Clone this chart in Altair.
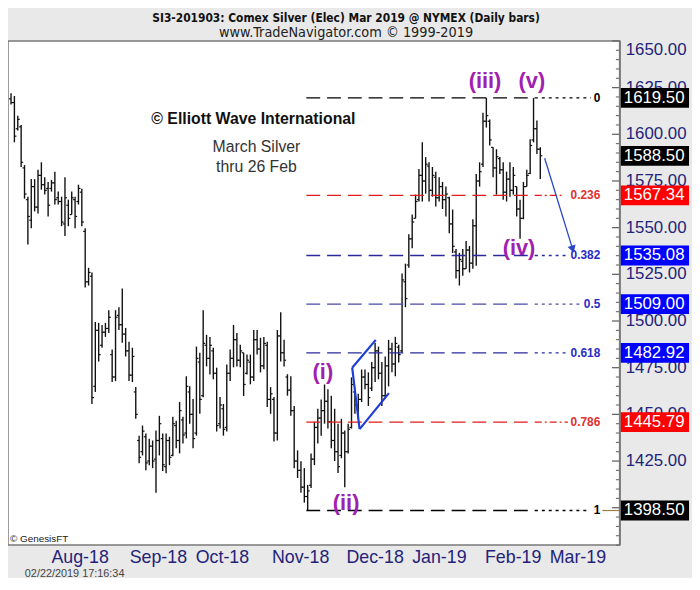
import altair as alt
import pandas as pd

# ---------------- daily bars (March 2019 silver, cents) ----------------
highs = [1622, 1620.5, 1610, 1605, 1583.5, 1566.6, 1576, 1576, 1581, 1585,
         1577, 1574.5, 1575.6, 1580, 1569.3, 1566.6, 1577, 1565, 1569.3, 1566.6,
         1573, 1570.8, 1549.7, 1528.5, 1526, 1499.5, 1499, 1497.9, 1499, 1505.8,
         1484.7, 1505.8, 1507.4, 1517.4, 1496.3, 1488.9, 1485.7, 1464.6, 1438.6, 1444,
         1439.7, 1437, 1436, 1441.3, 1449.2, 1439.7, 1439.7, 1438, 1448.7, 1446.6,
         1456.6, 1448.7, 1470.4, 1465, 1458.2, 1486.3, 1483, 1505.8, 1492.6, 1491.5,
         1485.7, 1475, 1459.3, 1455.6, 1476.7, 1484.7, 1497.9, 1493.6, 1487.3, 1483,
         1482, 1482, 1495.2, 1495.2, 1491, 1491.5, 1488.9, 1464.6, 1459.3, 1495.2,
         1504.7, 1489.9, 1471.5, 1470.4, 1454.5, 1430.7, 1424.9, 1421.2, 1412.2, 1429,
         1446, 1453, 1458, 1466, 1463.5, 1460, 1453, 1445, 1447.6, 1441.3,
         1445, 1469.8, 1463.5, 1461, 1474, 1474, 1472.5, 1478, 1488.3, 1486.3,
         1478, 1481, 1489.9, 1488.3, 1491.5, 1487.3, 1525.4, 1530.7, 1546.5, 1557,
         1567.7, 1581.4, 1595.7, 1587.8, 1585, 1582.5, 1580, 1577, 1574.5, 1572,
         1566.6, 1559.7, 1538.6, 1536.5, 1538.6, 1542.8, 1540.2, 1554.5, 1578.8, 1585,
         1611.6, 1619.5, 1607.9, 1593, 1592, 1587.8, 1585, 1580, 1585, 1582.5,
         1572, 1565, 1574.5, 1581, 1597.3, 1619.5, 1607.4, 1593]
lows = [1616, 1595.7, 1602, 1582.5, 1565.5, 1541, 1549.7, 1558.7, 1557.6, 1570.3,
        1567.7, 1556, 1569.3, 1562.4, 1562.4, 1550.8, 1545.5, 1550.8, 1557, 1549.7,
        1562.4, 1550.8, 1518, 1519, 1455.6, 1462, 1478.3, 1485.7, 1491.5, 1493.6,
        1467.3, 1467.8, 1495.2, 1488.3, 1481, 1467.8, 1467.3, 1447.6, 1423.8, 1428,
        1420, 1422.8, 1421.2, 1408, 1428, 1419.6, 1418.5, 1422.8, 1427.5, 1431.8,
        1429.1, 1434.4, 1437.1, 1445, 1431.8, 1438.6, 1450.3, 1459.2, 1475.7, 1471.4,
        1468.8, 1440.8, 1442.4, 1438.6, 1440.8, 1467.8, 1475.2, 1475.7, 1475.2, 1459.8,
        1471.4, 1466.1, 1467.8, 1482, 1472.5, 1474.1, 1454, 1450.3, 1435.5, 1436,
        1478.3, 1475.7, 1460, 1449.2, 1421.2, 1415.9, 1408, 1402.7, 1398.5, 1410.6,
        1422.8, 1434.4, 1438.6, 1445, 1442.4, 1431.8, 1425, 1418.6, 1426.5, 1411,
        1429, 1442.4, 1450.3, 1447.6, 1456.6, 1463.5, 1454.5, 1462.5, 1467.3, 1468.8,
        1454.5, 1458.2, 1465, 1472.5, 1470.4, 1477.8, 1483, 1507.4, 1528.5, 1539,
        1555, 1564, 1564, 1568.2, 1564, 1566.6, 1561.3, 1564, 1560, 1556,
        1547, 1536.4, 1522.7, 1519, 1524.3, 1528, 1526, 1528, 1529.6, 1572,
        1582.5, 1603.6, 1594, 1577, 1567.7, 1578.8, 1565, 1564, 1566.6, 1567.7,
        1556, 1544, 1554.5, 1572, 1578.8, 1595.7, 1589.4, 1576]
opens = [1619, 1617, 1603, 1604, 1582, 1565, 1554, 1572, 1561, 1578,
         1573, 1571, 1571, 1574, 1566, 1564, 1552, 1562, 1557, 1565,
         1564, 1569, 1548, 1521, 1524, 1465, 1495, 1487, 1494, 1496,
         1482, 1470, 1503, 1498, 1493, 1484, 1471, 1462, 1436, 1430,
         1438, 1425, 1433, 1426, 1436, 1437, 1422, 1436, 1428, 1444,
         1436, 1447, 1440, 1462, 1450, 1440, 1478, 1460, 1487, 1480,
         1484, 1472, 1445, 1453, 1443, 1472, 1480, 1490, 1479, 1483,
         1472, 1478, 1470, 1490, 1485, 1476, 1487, 1458, 1458, 1440,
         1492, 1483, 1470, 1463, 1452, 1425, 1420, 1411, 1406, 1412,
         1426, 1443, 1448, 1452, 1457, 1446, 1436, 1430, 1428, 1440,
         1430, 1443, 1462, 1455, 1458, 1470, 1466, 1464, 1475, 1484,
         1472, 1460, 1476, 1485, 1477, 1486, 1484, 1521, 1530, 1544,
         1555, 1565, 1578, 1575, 1583, 1570, 1577, 1566, 1572, 1565,
         1566, 1552, 1537, 1527, 1532, 1528, 1538, 1531, 1551, 1575,
         1584, 1607, 1607, 1593, 1582, 1587, 1581, 1569, 1576, 1570,
         1572, 1560, 1555, 1572, 1579, 1597, 1603, 1592]
closes = [1617, 1599, 1608, 1585, 1568, 1556, 1572, 1561, 1578, 1573,
          1570, 1562, 1574, 1565, 1564, 1553, 1566, 1555, 1566, 1556,
          1571, 1553, 1521, 1526, 1459, 1495, 1482, 1494, 1496, 1502,
          1470, 1502, 1498, 1493, 1484, 1471, 1481, 1450, 1427, 1441,
          1424, 1433, 1425, 1436, 1445, 1423, 1436, 1427, 1445, 1436,
          1452, 1439, 1465, 1450, 1437, 1480, 1458, 1488, 1480, 1487,
          1472, 1444, 1455, 1442, 1472, 1480, 1490, 1479, 1484, 1466,
          1479, 1470, 1490, 1485, 1476, 1488, 1458, 1461, 1440, 1492,
          1483, 1479, 1463, 1452, 1425, 1420, 1411, 1406, 1409, 1426,
          1443, 1448, 1452, 1457, 1446, 1436, 1430, 1422, 1440, 1430,
          1442, 1466, 1455, 1458, 1470, 1466, 1459, 1475, 1484, 1472,
          1460, 1476, 1485, 1477, 1488, 1482, 1522, 1512, 1544, 1553,
          1564, 1578, 1575, 1584, 1570, 1578, 1566, 1572, 1565, 1568,
          1552, 1540, 1527, 1533, 1528, 1538, 1531, 1551, 1575, 1580,
          1607, 1610, 1597, 1582, 1588, 1581, 1569, 1576, 1570, 1578,
          1560, 1555, 1572, 1578, 1594, 1603, 1592, 1588.5]

# ---------------- Fibonacci retracement levels ----------------
fib_levels = [1619.50, 1567.34, 1535.08, 1509.00, 1482.92, 1445.79, 1398.50]
fib_ratios = ["0", "0.236", "0.382", "0.5", "0.618", "0.786", "1"]
fib_line_colors = ["#000000", "#e01c1c", "#2a2a9c", "#4a4aa8", "#2a2a9c", "#e01c1c", "#000000"]
fib_text_colors = ["#000000", "#e03030", "#2a2ac8", "#2a2ac8", "#2a2ac8", "#e03030", "#000000"]
fib_ext_style = ["dot", "dashdot", "dot", "dot", "dot", "dashdot", "dot"]
fib_ext_end = [172.0, 164.0, 165.5, 169.3, 165.2, 165.2, 171.3]
fib_start = 87.6
fib_dash_end = 155.4
fib_label_pos = 174.8

# ---------------- price boxes on the axis ----------------
box_values = [1619.50, 1588.50, 1567.34, 1535.08, 1509.00, 1482.92, 1445.79, 1398.50]
box_colors = ["#000000", "#000000", "#ff0000", "#0000ff", "#0000ff", "#0000ff", "#ff0000", "#000000"]

# ---------------- months ----------------
month_labels = ["Aug-18", "Sep-18", "Oct-18", "Nov-18", "Dec-18", "Jan-19", "Feb-19", "Mar-19"]
month_pos = [12.0, 35.2, 54.8, 77.4, 99.5, 119.0, 140.6, 159.8]

# ---------------- wave labels ----------------
wave_labels = ["(i)", "(ii)", "(iii)", "(iv)", "(v)"]
wave_x = [92.5, 99.4, 140.6, 150.7, 154.5]
wave_y = [1472.5, 1402.7, 1628.5, 1539.1, 1628.5]

# ---------------- wedge / arrow ----------------
wedge_x1 = [101.2, 103.4, 101.2]
wedge_y1 = [1475.0, 1442.1, 1475.0]
wedge_x2 = [108.2, 112.1, 103.4]
wedge_y2 = [1489.9, 1461.4, 1442.1]
arrow_x = [158.3, 166.6]
arrow_y = [1587.2, 1538.5]

# ---------------- axis ticks ----------------
y_labels = list(range(1400, 1651, 25))
y_ticks = list(range(1380, 1651, 5))

title_line1 = "SI3-201903:  Comex Silver (Elec) Mar 2019 @ NYMEX  (Daily bars)"
title_line2 = "www.TradeNavigator.com \u00a9 1999-2019"
ewi_lines = ["\u00a9 Elliott Wave International", "March Silver", "thru 26 Feb"]
ewi_x = [71.9, 72.8, 72.8]
ewi_y = [1607.9, 1593.1, 1582.5]

W, H = 619, 510
NAVY = "#23237a"
FONT = "Liberation Sans, Arial, sans-serif"
NARROW = "Liberation Sans Narrow, Arial Narrow, DejaVu Sans Condensed, sans-serif"

xs = alt.Scale(domain=[-0.9, 180.6], nice=False, zero=False)
ys = alt.Scale(domain=[1380, 1650], nice=False, zero=False)


def X(f):
    return alt.X(f, type="quantitative", scale=xs, axis=None)


def Y(f):
    return alt.Y(f, type="quantitative", scale=ys, axis=None)


bars = pd.DataFrame({"i": list(range(len(highs))), "high": highs, "low": lows,
                     "open": opens, "close": closes})

hl = alt.Chart(bars).mark_rule(color="#111111", strokeWidth=1.4).encode(
    x=X("i"), y=Y("low"), y2="high:Q")
op = alt.Chart(bars).transform_calculate(io="datum.i - 0.6").mark_rule(
    color="#111111", strokeWidth=1.2).encode(x=X("io"), x2="i:Q", y=Y("open"))
cl = alt.Chart(bars).transform_calculate(ic="datum.i + 0.6").mark_rule(
    color="#111111", strokeWidth=1.2).encode(x=X("i"), x2="ic:Q", y=Y("close"))

fib = pd.DataFrame({"v": fib_levels, "r": fib_ratios, "lc": fib_line_colors,
                    "tc": fib_text_colors, "style": fib_ext_style, "e": fib_ext_end,
                    "s": [fib_start] * len(fib_levels), "d": [fib_dash_end] * len(fib_levels),
                    "lp": [fib_label_pos] * len(fib_levels)})

fib_main = alt.Chart(fib).mark_rule(strokeWidth=1.3, strokeDash=[14, 7]).encode(
    x=X("s"), x2="d:Q", y=Y("v"), color=alt.Color("lc:N", scale=None))
fib_dot = alt.Chart(fib).transform_filter("datum.style == 'dot'").mark_rule(
    strokeWidth=1.3, strokeDash=[3, 4]).encode(
    x=X("d"), x2="e:Q", y=Y("v"), color=alt.Color("lc:N", scale=None))
fib_dd = alt.Chart(fib).transform_filter("datum.style == 'dashdot'").mark_rule(
    strokeWidth=1.3, strokeDash=[7, 3, 2, 3]).encode(
    x=X("d"), x2="e:Q", y=Y("v"), color=alt.Color("lc:N", scale=None))
fib_txt = alt.Chart(fib).mark_text(align="right", baseline="middle", fontSize=12,
                                   fontWeight="bold", font=FONT).encode(
    x=X("lp"), y=Y("v"), text="r:N", color=alt.Color("tc:N", scale=None))

tan = alt.Chart(pd.DataFrame({"v": [fib_levels[-1]], "a": [175.4], "b": [180.6]})).mark_rule(
    color="#a07a40", strokeWidth=1.2).encode(x=X("a"), x2="b:Q", y=Y("v"))

ticks = pd.DataFrame({"t": y_ticks, "major": [t % 25 == 0 for t in y_ticks]})
tick_major = alt.Chart(ticks).transform_filter("datum.major").mark_rule(
    color="#666666", strokeWidth=1.3).encode(y=Y("t"), x=alt.value(W - 8), x2=alt.value(W))
tick_minor = alt.Chart(ticks).transform_filter("!datum.major").mark_rule(
    color="#666666", strokeWidth=1.1).encode(y=Y("t"), x=alt.value(W - 4), x2=alt.value(W))

# right-hand price labels (drawn beneath the coloured boxes)
ylab = pd.DataFrame({"v": y_labels})
ylab_mid = alt.Chart(ylab).transform_filter("datum.v < 1650").mark_text(
    align="left", baseline="middle", fontSize=17, font=FONT, color=NAVY).encode(
    x=alt.value(W + 6), y=Y("v"), text=alt.Text("v:Q", format=".2f"))
ylab_top = alt.Chart(ylab).transform_filter("datum.v >= 1650").mark_text(
    align="left", baseline="top", fontSize=17, font=FONT, color=NAVY, dy=1).encode(
    x=alt.value(W + 6), y=Y("v"), text=alt.Text("v:Q", format=".2f"))
axis_line = alt.Chart(ylab.iloc[:1]).mark_rule(color="#7a7a7a", strokeWidth=2).encode(
    x=alt.value(W), y=alt.value(0), y2=alt.value(H))

boxes = pd.DataFrame({"v": box_values, "c": box_colors})
box_rect = alt.Chart(boxes).transform_calculate(
    lo="datum.v - 5.3", hi="datum.v + 5.3").mark_rect().encode(
    x=alt.value(W + 1), x2=alt.value(W + 70), y=Y("lo"), y2="hi:Q",
    color=alt.Color("c:N", scale=None))
box_txt = alt.Chart(boxes).mark_text(color="white", fontSize=17, font=FONT,
                                     align="left", baseline="middle").encode(
    x=alt.value(W + 4), y=Y("v"), text=alt.Text("v:Q", format=".2f"))

months = pd.DataFrame({"m": month_labels, "p": month_pos})
month_txt = alt.Chart(months).mark_text(align="left", baseline="middle", fontSize=18,
                                        font=FONT, color=NAVY).encode(
    x=X("p"), y=alt.value(H + 13), text="m:N")

waves = pd.DataFrame({"t": wave_labels, "x": wave_x, "y": wave_y})
wave_txt = alt.Chart(waves).mark_text(fontSize=22, fontWeight="bold", font=FONT,
                                      color="#a020b0", baseline="middle").encode(
    x=X("x"), y=Y("y"), text="t:N")

wedge = pd.DataFrame({"x1": wedge_x1, "y1": wedge_y1, "x2": wedge_x2, "y2": wedge_y2})
wedge_l = alt.Chart(wedge).mark_rule(color="#1d3dd6", strokeWidth=2.2).encode(
    x=X("x1"), y=Y("y1"), x2="x2:Q", y2="y2:Q")

arrow = pd.DataFrame({"x1": [arrow_x[0]], "y1": [arrow_y[0]], "x2": [arrow_x[1]], "y2": [arrow_y[1]]})
arrow_l = alt.Chart(arrow).mark_rule(color="#2846c8", strokeWidth=1.3).encode(
    x=X("x1"), y=Y("y1"), x2="x2:Q", y2="y2:Q")
arrow_h = alt.Chart(arrow).mark_point(shape="triangle-down", filled=True, size=70,
                                      angle=343, color="#2846c8", opacity=1).encode(
    x=X("x2"), y=Y("y2"))

ewi = pd.DataFrame({"t": ewi_lines, "x": ewi_x, "y": ewi_y})
ewi_bold = alt.Chart(ewi.iloc[:1]).mark_text(fontSize=16, fontWeight="bold", font=FONT,
                                             color="#111111", baseline="middle").encode(
    x=X("x"), y=Y("y"), text="t:N")
ewi_reg = alt.Chart(ewi.iloc[1:]).mark_text(fontSize=16, font=FONT, color="#333333",
                                            baseline="middle").encode(
    x=X("x"), y=Y("y"), text="t:N")

hdr = pd.DataFrame({"a": [title_line1], "b": [title_line2], "g": ["\u00a9 GenesisFT"],
                    "ts": ["02/22/2019 17:16:34"]})
hdr1 = alt.Chart(hdr).mark_text(fontSize=12, fontWeight="bold", font=NARROW, color="#111111",
                                baseline="middle", align="center").encode(
    x=alt.value(342), y=alt.value(-23), text="a:N")
hdr2 = alt.Chart(hdr).mark_text(fontSize=14.5, font=NARROW, color="#222222",
                                baseline="middle", align="center").encode(
    x=alt.value(342), y=alt.value(-8), text="b:N")
gen = alt.Chart(hdr).mark_text(fontSize=10, font=FONT, color="#222222",
                               baseline="middle", align="left").encode(
    x=alt.value(2), y=alt.value(H - 6), text="g:N")
stamp = alt.Chart(hdr).mark_text(fontSize=11, font=FONT, color="#444444",
                                 baseline="top", align="left").encode(
    x=alt.value(17), y=alt.value(H + 23), text="ts:N")

chart = alt.layer(
    hl, op, cl,
    fib_main, fib_dot, fib_dd, fib_txt, tan,
    tick_major, tick_minor, axis_line,
    wedge_l, arrow_l, arrow_h,
    wave_txt, ewi_bold, ewi_reg,
    ylab_mid, ylab_top,
    box_rect, box_txt, month_txt,
    hdr1, hdr2, gen, stamp,
).properties(
    width=W, height=H,
    autosize=alt.AutoSizeParams(type="none"),
    padding={"left": 0, "top": 30, "right": 73, "bottom": 30},
).configure(background="#e9e9e9").configure_view(
    fill="white", stroke="#7a7a7a", strokeWidth=1.5)

chart.save("out.html", embed_options={"renderer": "svg", "actions": False})
